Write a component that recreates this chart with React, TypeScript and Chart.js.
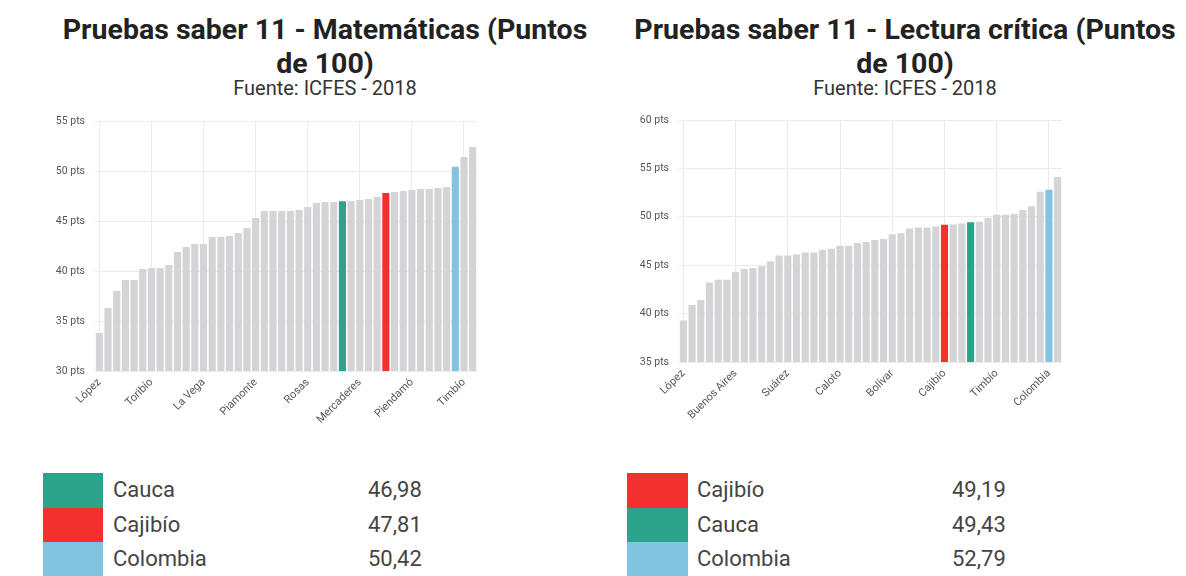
import React, { useEffect, useRef } from 'react';
import { Chart, registerables } from 'chart.js';

Chart.register(...registerables);

const GRAY = '#d4d4d6';
const GREEN = '#2aa58b';
const RED = '#f2302e';
const BLUE = '#82c4e0';

const highlightColors: Record<string, string> = { Cauca: GREEN, 'Cajibío': RED, Colombia: BLUE };

const mathLabels = [
  'López', 'Timbiquí', 'Guapi', 'Argelia', 'Páez', 'Jambaló', 'Toribío', 'Caldono', 'Inzá', 'Suárez',
  'Buenos Aires', 'Totoró', 'La Vega', 'Silvia', 'Morales', 'Almaguer', 'Sucre', 'Santa Rosa', 'Piamonte', 'Florencia',
  'Balboa', 'Patía', 'Bolívar', 'La Sierra', 'Rosas', 'Sotará', 'Caloto', 'Puracé', 'Cauca', 'San Sebastián',
  'Mercaderes', 'Corinto', 'Padilla', 'Cajibío', 'Miranda', 'Guachené', 'Piendamó', 'Villa Rica', 'Puerto Tejada', 'El Tambo',
  'Santander de Quilichao', 'Colombia', 'Timbío', 'Popayán',
];
const mathValues = [
  33.8, 36.3, 38.0, 39.1, 39.1, 40.2, 40.3, 40.3, 40.6, 41.9,
  42.4, 42.7, 42.7, 43.4, 43.4, 43.5, 43.8, 44.3, 45.3, 46.0,
  46.0, 46.0, 46.0, 46.1, 46.4, 46.8, 46.9, 46.9, 46.98, 47.0,
  47.1, 47.2, 47.4, 47.81, 47.9, 48.0, 48.1, 48.2, 48.2, 48.3,
  48.4, 50.42, 51.4, 52.4,
];

const readLabels = [
  'López', 'Timbiquí', 'Guapi', 'Argelia', 'Jambaló', 'Páez', 'Buenos Aires', 'Toribío', 'Caldono', 'Inzá',
  'Totoró', 'Piamonte', 'Suárez', 'Silvia', 'Morales', 'Almaguer', 'Balboa', 'La Vega', 'Caloto', 'Florencia',
  'Patía', 'Santa Rosa', 'Sucre', 'La Sierra', 'Bolívar', 'Rosas', 'Sotará', 'Puracé', 'San Sebastián', 'Mercaderes',
  'Cajibío', 'Corinto', 'Padilla', 'Cauca', 'Miranda', 'Guachené', 'Timbío', 'Villa Rica', 'Piendamó', 'Puerto Tejada',
  'El Tambo', 'Santander de Quilichao', 'Colombia', 'Popayán',
];
const readValues = [
  39.3, 40.9, 41.4, 43.2, 43.5, 43.5, 44.3, 44.6, 44.7, 44.9,
  45.4, 46.0, 46.0, 46.1, 46.3, 46.3, 46.6, 46.7, 47.0, 47.0,
  47.3, 47.4, 47.6, 47.7, 48.2, 48.3, 48.8, 48.9, 48.9, 49.0,
  49.19, 49.2, 49.3, 49.43, 49.5, 49.9, 50.2, 50.2, 50.3, 50.7,
  51.1, 52.6, 52.79, 54.1,
];

const mathTitle = ['Pruebas saber 11 - Matemáticas (Puntos', 'de 100)'];
const readTitle = ['Pruebas saber 11 - Lectura crítica (Puntos', 'de 100)'];
const sourceText = 'Fuente: ICFES - 2018';

const mathLegendNames = ['Cauca', 'Cajibío', 'Colombia'];
const mathLegendValues = ['46,98', '47,81', '50,42'];
const readLegendNames = ['Cajibío', 'Cauca', 'Colombia'];
const readLegendValues = ['49,19', '49,43', '52,79'];

const FONT = 'Roboto, "Noto Sans", sans-serif';

type BoxProps = {
  labels: string[];
  values: number[];
  min: number;
  max: number;
  left: number;
  width: number;
  height: number;
  yWidth: number;
  xHeight: number;
  padRight: number;
  padTop: number;
};

function BarChart(p: BoxProps) {
  const ref = useRef<HTMLCanvasElement | null>(null);
  useEffect(() => {
    if (!ref.current) return;
    const chart = new Chart(ref.current, {
      type: 'bar',
      data: {
        labels: p.labels,
        datasets: [
          {
            data: p.values,
            backgroundColor: p.labels.map((l) => highlightColors[l] ?? GRAY),
            barPercentage: 0.82,
            categoryPercentage: 1,
          },
        ],
      },
      options: {
        animation: false,
        responsive: false,
        maintainAspectRatio: false,
        layout: { padding: { left: 0, right: p.padRight, top: p.padTop, bottom: 0 } },
        plugins: {
          legend: { display: false },
          tooltip: { enabled: false },
          title: { display: false },
        },
        scales: {
          x: {
            grid: {
              offset: false,
              drawTicks: false,
              color: (ctx: any) => (ctx.index % 6 === 0 ? '#ebebeb' : 'rgba(0,0,0,0)'),
            },
            border: { display: false },
            ticks: {
              autoSkip: false,
              maxRotation: 45,
              minRotation: 45,
              padding: 5,
              color: '#555',
              font: { family: FONT, size: 11 },
              callback: (_v: any, i: number) => (i % 6 === 0 ? p.labels[i] : ''),
            },
            afterFit: (s: any) => {
              s.height = p.xHeight;
            },
          },
          y: {
            min: p.min,
            max: p.max,
            grid: { drawTicks: false, color: '#ebebeb' },
            border: { display: false },
            ticks: {
              stepSize: 5,
              padding: 10,
              color: '#555',
              font: { family: FONT, size: 10.5 },
              callback: (v: any) => v + ' pts',
            },
            afterFit: (s: any) => {
              s.width = p.yWidth;
            },
          },
        },
      } as any,
    });
    return () => chart.destroy();
  }, []);
  return (
    <canvas
      ref={ref}
      width={p.width}
      height={p.height}
      style={{ position: 'absolute', left: p.left, top: 0, width: p.width, height: p.height }}
    />
  );
}

function Titles(props: { lines: string[]; center: number }) {
  return (
    <>
      <div
        style={{
          position: 'absolute',
          left: props.center - 300,
          width: 600,
          top: 13,
          textAlign: 'center',
          fontFamily: FONT,
          fontWeight: 'bold',
          fontSize: 28.5,
          lineHeight: '34px',
          color: '#222',
          whiteSpace: 'nowrap',
        }}
      >
        {props.lines.map((l) => (
          <div key={l}>{l}</div>
        ))}
      </div>
      <div
        style={{
          position: 'absolute',
          left: props.center - 300,
          width: 600,
          top: 77,
          textAlign: 'center',
          fontFamily: FONT,
          fontSize: 20,
          lineHeight: '22px',
          color: '#333',
        }}
      >
        {sourceText}
      </div>
    </>
  );
}

function Legend(props: { names: string[]; values: string[]; left: number; squareW: number; textLeft: number; valueLeft: number }) {
  const rowH = 34.5;
  return (
    <>
      {props.names.map((n, i) => (
        <React.Fragment key={n}>
          <div
            style={{
              position: 'absolute',
              left: props.left,
              top: 473 + i * rowH,
              width: props.squareW,
              height: rowH + 0.5,
              background: highlightColors[n],
            }}
          />
          <div
            style={{
              position: 'absolute',
              left: props.textLeft,
              top: 473 + i * rowH,
              height: rowH,
              lineHeight: rowH + 'px',
              fontFamily: FONT,
              fontSize: 22,
              color: '#444',
            }}
          >
            {n}
          </div>
          <div
            style={{
              position: 'absolute',
              left: props.valueLeft,
              top: 473 + i * rowH,
              height: rowH,
              lineHeight: rowH + 'px',
              fontFamily: FONT,
              fontSize: 22,
              color: '#444',
            }}
          >
            {props.values[i]}
          </div>
        </React.Fragment>
      ))}
    </>
  );
}

export default function App() {
  return (
    <div
      style={{
        position: 'fixed',
        left: 0,
        top: 0,
        width: 1186,
        height: 576,
        background: '#fff',
        overflow: 'hidden',
      }}
    >
      <Titles lines={mathTitle} center={325} />
      <Titles lines={readTitle} center={905} />
      <BarChart
        labels={mathLabels}
        values={mathValues}
        min={30}
        max={55}
        left={40}
        width={570}
        height={440}
        yWidth={55}
        xHeight={69}
        padRight={133}
        padTop={121}
      />
      <BarChart
        labels={readLabels}
        values={readValues}
        min={35}
        max={60}
        left={620}
        width={566}
        height={440}
        yWidth={59}
        xHeight={78}
        padRight={124}
        padTop={120}
      />
      <Legend names={mathLegendNames} values={mathLegendValues} left={43} squareW={60} textLeft={113} valueLeft={368} />
      <Legend names={readLegendNames} values={readLegendValues} left={627} squareW={61} textLeft={697} valueLeft={952} />
    </div>
  );
}
